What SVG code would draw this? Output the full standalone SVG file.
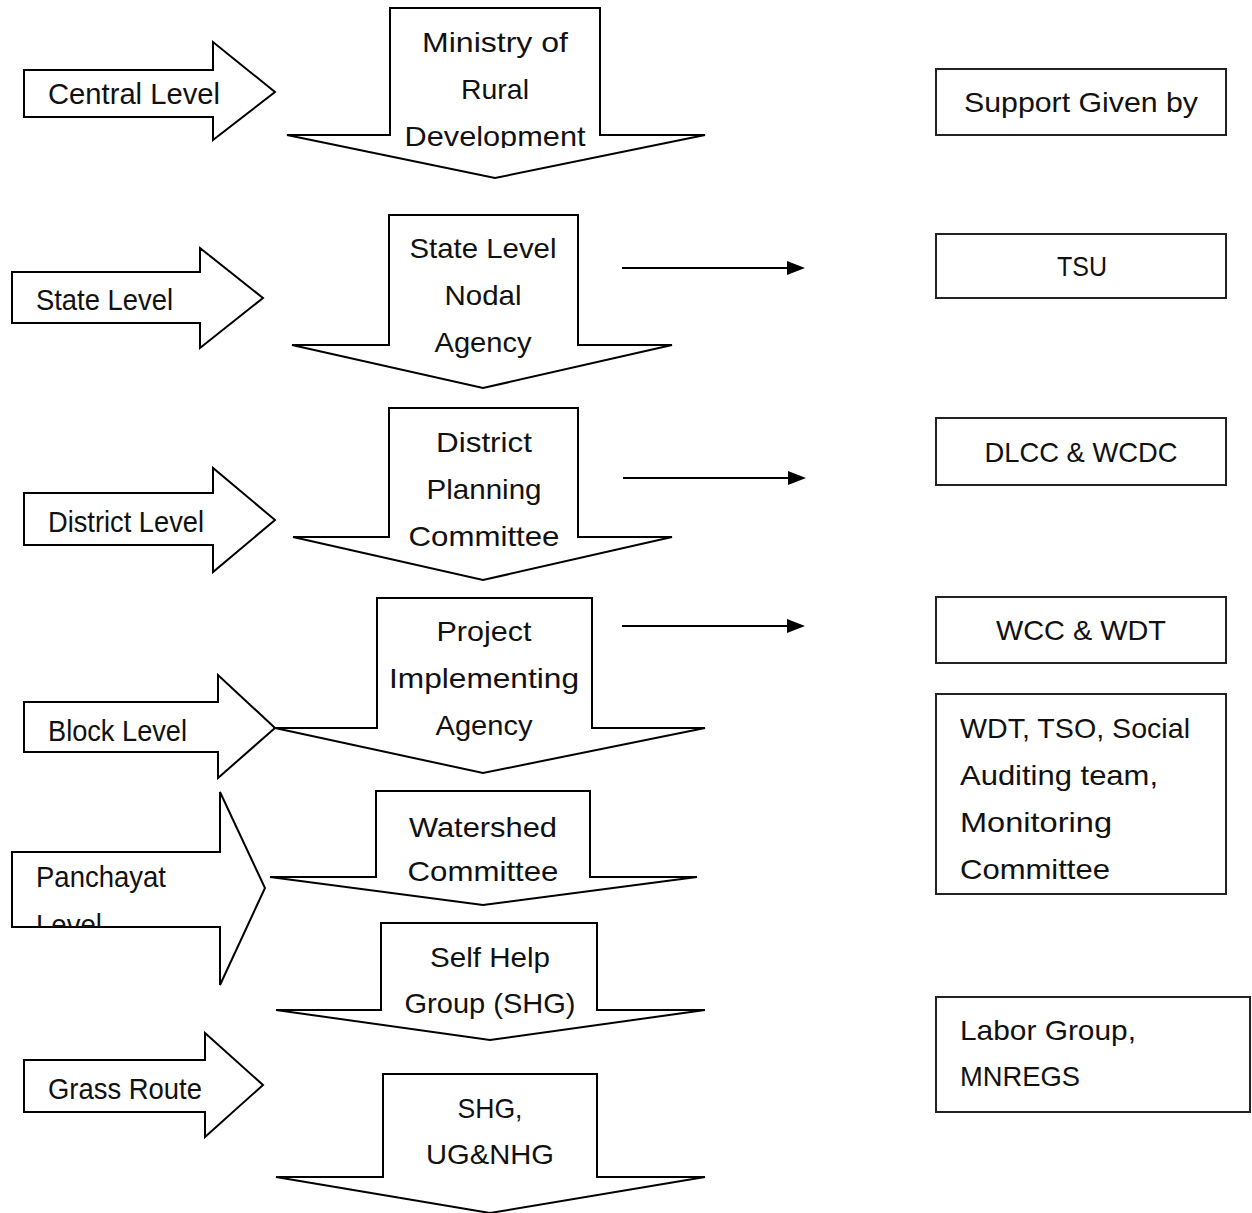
<svg xmlns="http://www.w3.org/2000/svg" width="1252" height="1213" viewBox="0 0 1252 1213">
<style>
.shape{fill:#fff;stroke:#000;stroke-width:2;stroke-linejoin:miter}
.box{fill:#fff;stroke:#222;stroke-width:2}
.lbl{font-family:"Liberation Sans",Arial,sans-serif;font-size:30px;fill:#111}
.t{font-family:"Liberation Sans",Arial,sans-serif;font-size:28px;fill:#111;text-anchor:middle}
.tl{font-family:"Liberation Sans",Arial,sans-serif;font-size:28px;fill:#111}
.conn{stroke:#000;stroke-width:2;fill:none}
</style>
<defs>
<marker id="ah" markerWidth="18" markerHeight="14" refX="0" refY="7" orient="auto" markerUnits="userSpaceOnUse" viewBox="0 0 18 14">
<path d="M0,0 L18,7 L0,14 Z" fill="#000"/>
</marker>
<clipPath id="clipDev"><rect x="380" y="0" width="240" height="148"/></clipPath>
<clipPath id="clipPan"><rect x="12" y="852" width="210" height="75"/></clipPath>
</defs>
<rect width="1252" height="1213" fill="#fff"/>

<g id="central-level">
<path class="shape" d="M24,70 H213 V42 L275,92 L213,140 V117 H24 Z"/>
<text class="lbl" x="48" y="104" textLength="172" lengthAdjust="spacingAndGlyphs">Central Level</text>
</g>
<g id="state-level">
<path class="shape" d="M12,272 H200 V248 L263,298 L200,348 V323 H12 Z"/>
<text class="lbl" x="36" y="310" textLength="137" lengthAdjust="spacingAndGlyphs">State Level</text>
</g>
<g id="district-level">
<path class="shape" d="M24,493 H213 V468 L275,520 L213,572 V545 H24 Z"/>
<text class="lbl" x="48" y="532" textLength="156" lengthAdjust="spacingAndGlyphs">District Level</text>
</g>
<g id="block-level">
<path class="shape" d="M24,702 H218 V675 L275,728 L218,778 V752 H24 Z"/>
<text class="lbl" x="48" y="741" textLength="139" lengthAdjust="spacingAndGlyphs">Block Level</text>
</g>
<g id="panchayat-level">
<path class="shape" d="M12,852 H220 V792 L265,888 L220,985 V927 H12 Z"/>
<text class="lbl" x="36" y="887" textLength="130" lengthAdjust="spacingAndGlyphs">Panchayat</text>
<text class="lbl" x="36" y="935" textLength="66" lengthAdjust="spacingAndGlyphs" clip-path="url(#clipPan)">Level</text>
</g>
<g id="grass-route">
<path class="shape" d="M24,1060 H205 V1033 L263,1085 L205,1137 V1112 H24 Z"/>
<text class="lbl" x="48" y="1099" textLength="154" lengthAdjust="spacingAndGlyphs">Grass Route</text>
</g>

<g id="ministry">
<path class="shape" d="M390,8 H600 V135 H705 L495,178 L287,135 H390 Z"/>
<text class="t" x="495" y="52" textLength="146" lengthAdjust="spacingAndGlyphs">Ministry of</text>
<text class="t" x="495" y="99" textLength="68" lengthAdjust="spacingAndGlyphs">Rural</text>
<text class="t" x="495" y="146" textLength="181" lengthAdjust="spacingAndGlyphs" clip-path="url(#clipDev)">Development</text>
</g>
<g id="state-nodal-agency">
<path class="shape" d="M389,215 H578 V345 H672 L483,388 L292,345 H389 Z"/>
<text class="t" x="483" y="258" textLength="147" lengthAdjust="spacingAndGlyphs">State Level</text>
<text class="t" x="483" y="305" textLength="77" lengthAdjust="spacingAndGlyphs">Nodal</text>
<text class="t" x="483" y="352" textLength="97" lengthAdjust="spacingAndGlyphs">Agency</text>
</g>
<g id="district-planning">
<path class="shape" d="M389,408 H578 V537 H672 L483,580 L293,537 H389 Z"/>
<text class="t" x="484" y="452" textLength="96" lengthAdjust="spacingAndGlyphs">District</text>
<text class="t" x="484" y="499" textLength="115" lengthAdjust="spacingAndGlyphs">Planning</text>
<text class="t" x="484" y="546" textLength="151" lengthAdjust="spacingAndGlyphs">Committee</text>
</g>
<g id="project-implementing">
<path class="shape" d="M377,598 H592 V728 H705 L483,773 L275,728 H377 Z"/>
<text class="t" x="484" y="641" textLength="95" lengthAdjust="spacingAndGlyphs">Project</text>
<text class="t" x="484" y="688" textLength="190" lengthAdjust="spacingAndGlyphs">Implementing</text>
<text class="t" x="484" y="735" textLength="97" lengthAdjust="spacingAndGlyphs">Agency</text>
</g>
<g id="watershed">
<path class="shape" d="M376,791 H590 V877 H697 L483,905 L270,877 H376 Z"/>
<text class="t" x="483" y="837" textLength="148" lengthAdjust="spacingAndGlyphs">Watershed</text>
<text class="t" x="483" y="881" textLength="151" lengthAdjust="spacingAndGlyphs">Committee</text>
</g>
<g id="self-help-group">
<path class="shape" d="M381,923 H597 V1010 H705 L490,1040 L276,1010 H381 Z"/>
<text class="t" x="490" y="967" textLength="120" lengthAdjust="spacingAndGlyphs">Self Help</text>
<text class="t" x="490" y="1013" textLength="171" lengthAdjust="spacingAndGlyphs">Group (SHG)</text>
</g>
<g id="shg-ug-nhg">
<path class="shape" d="M383,1074 H597 V1177 H705 L490,1213 L276,1177 H383 Z"/>
<text class="t" x="490" y="1118" textLength="65" lengthAdjust="spacingAndGlyphs">SHG,</text>
<text class="t" x="490" y="1164" textLength="128" lengthAdjust="spacingAndGlyphs">UG&amp;NHG</text>
</g>

<g id="support-given-by">
<rect class="box" x="936" y="69" width="290" height="66"/>
<text class="t" x="1081" y="112" textLength="234" lengthAdjust="spacingAndGlyphs">Support Given by</text>
</g>
<g id="tsu">
<rect class="box" x="936" y="234" width="290" height="64"/>
<text class="t" x="1082" y="276" textLength="50" lengthAdjust="spacingAndGlyphs">TSU</text>
</g>
<g id="dlcc-wcdc">
<rect class="box" x="936" y="418" width="290" height="67"/>
<text class="t" x="1081" y="462" textLength="193" lengthAdjust="spacingAndGlyphs">DLCC &amp; WCDC</text>
</g>
<g id="wcc-wdt">
<rect class="box" x="936" y="597" width="290" height="66"/>
<text class="t" x="1081" y="640" textLength="170" lengthAdjust="spacingAndGlyphs">WCC &amp; WDT</text>
</g>
<g id="wdt-tso">
<rect class="box" x="936" y="694" width="290" height="200"/>
<text class="tl" x="960" y="738" textLength="230" lengthAdjust="spacingAndGlyphs">WDT, TSO, Social</text>
<text class="tl" x="960" y="785" textLength="198" lengthAdjust="spacingAndGlyphs">Auditing team,</text>
<text class="tl" x="960" y="832" textLength="152" lengthAdjust="spacingAndGlyphs">Monitoring</text>
<text class="tl" x="960" y="879" textLength="150" lengthAdjust="spacingAndGlyphs">Committee</text>
</g>
<g id="labor-group">
<rect class="box" x="936" y="997" width="314" height="115"/>
<text class="tl" x="960" y="1040" textLength="176" lengthAdjust="spacingAndGlyphs">Labor Group,</text>
<text class="tl" x="960" y="1086" textLength="120" lengthAdjust="spacingAndGlyphs">MNREGS</text>
</g>

<g id="connectors">
<line class="conn" x1="622" y1="268" x2="787" y2="268" marker-end="url(#ah)"/>
<line class="conn" x1="623" y1="478" x2="788" y2="478" marker-end="url(#ah)"/>
<line class="conn" x1="622" y1="626" x2="787" y2="626" marker-end="url(#ah)"/>
</g>
</svg>
